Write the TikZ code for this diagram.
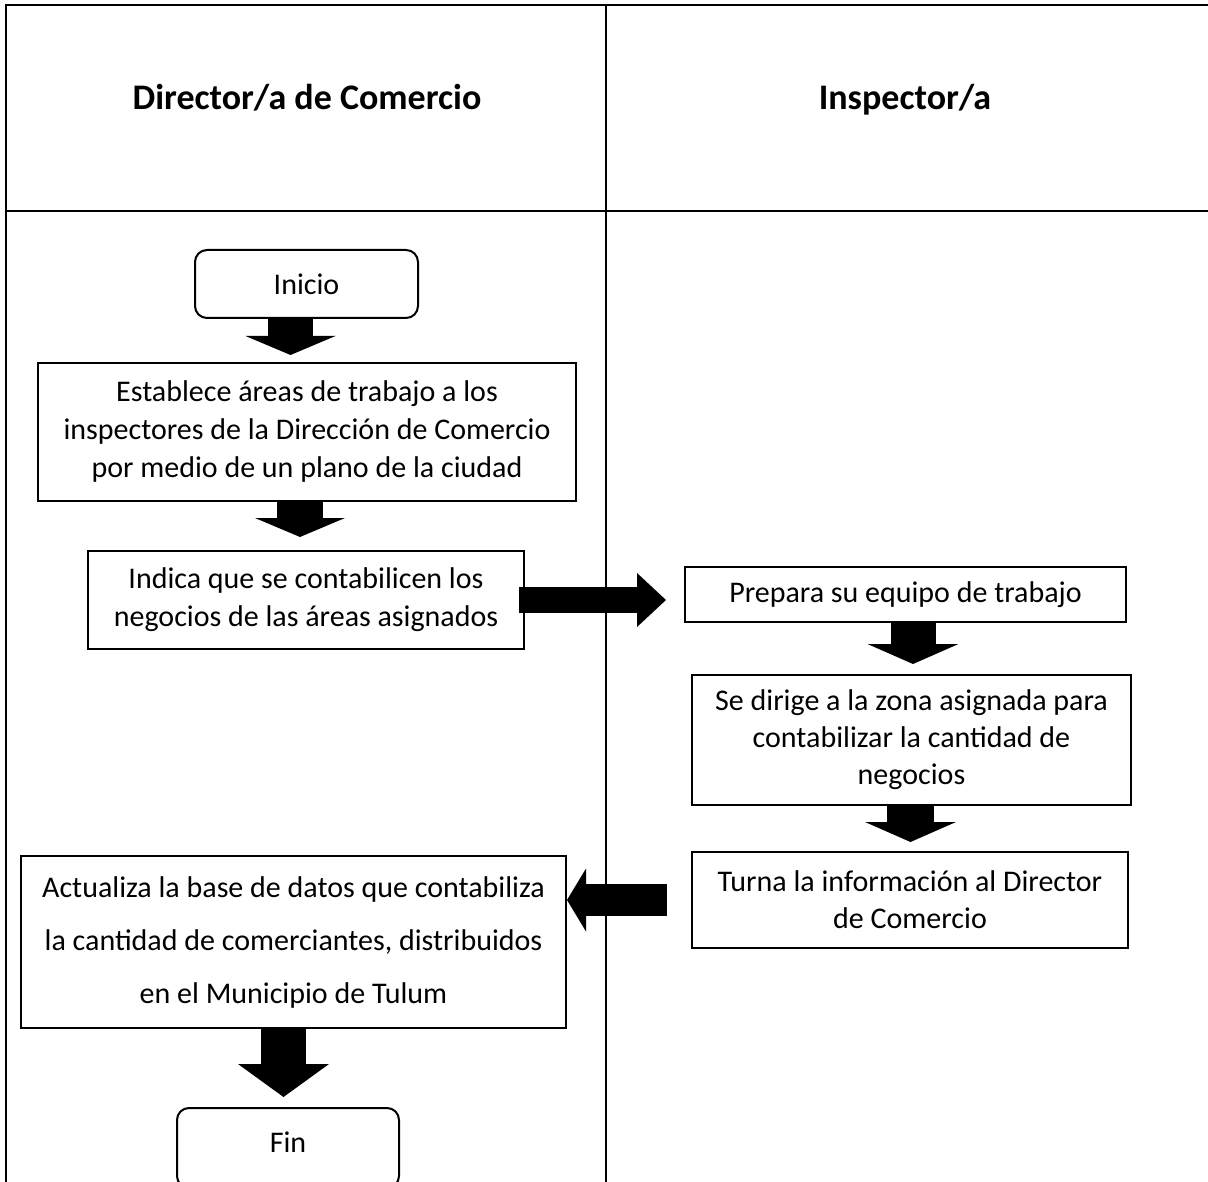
\documentclass[tikz,border=0pt]{standalone}
\usepackage{fontspec}
\setmainfont{Carlito}
\usetikzlibrary{arrows.meta}
\def\downFlow{inicio/establece/-16/7/45/90/19, establece/indica/-7/13/46/90/19, prepara/sedirige/7.5/10/45/91/20, sedirige/turna/-1/9/47/91/20, actualiza/fin/-10/10/45/91/33}
\tikzstyle{lane line}=[line width=2.4pt]
\tikzstyle{process}=[draw, line width=2pt, inner sep=0pt, align=center, font=\fontsize{30}{38}\selectfont]
\tikzstyle{terminal}=[process, rounded corners=12pt]
\tikzstyle{lane title}=[anchor=base, font=\fontsize{36}{42}\selectfont\bfseries]

\begin{document}
\begin{tikzpicture}[x=1pt, y=-1pt]
  \useasboundingbox (0,0) rectangle (1208,1182);

  % The swimlane table
  \draw[lane line] (5,5) -- (1210,5);
  \draw[lane line] (6,4) -- (6,1190);
  \draw[lane line] (6,211) -- (1210,211);
  \draw[line width=2pt] (606,4) -- (606,1190);
  \node[lane title] (director) at (307,110) {Director/a de Comercio};
  \node[lane title] (inspector) at (905,110) {Inspector/a};

  % Director steps
  \node[terminal, minimum width=223pt, minimum height=68pt] (inicio) at (306.5,284) {Inicio};
  \node[process, minimum width=538pt, minimum height=138pt] (establece) at (307,432)
    {Establece áreas de trabajo a los\\inspectores de la Dirección de Comercio\\por medio de un plano de la ciudad};
  \node[process, minimum width=436pt, minimum height=98pt] (indica) at (306,600)
    {Indica que se contabilicen los\\negocios de las áreas asignados};
  \node[process, minimum width=545pt, minimum height=172pt, font=\fontsize{30}{53}\selectfont] (actualiza) at (293.5,942)
    {Actualiza la base de datos que contabiliza\\la cantidad de comerciantes, distribuidos\\en el Municipio de Tulum};
  \node[terminal, minimum width=222pt, minimum height=80pt, text depth=11pt] (fin) at (288,1148) {Fin};

  % Inspector steps
  \node[process, minimum width=441pt, minimum height=55pt] (prepara) at (905.5,594.5) {Prepara su equipo de trabajo};
  \node[process, minimum width=439pt, minimum height=130pt, font=\fontsize{30}{37}\selectfont] (sedirige) at (911.5,740)
    {Se dirige a la zona asignada para\\contabilizar la cantidad de\\negocios};
  \node[process, minimum width=436pt, minimum height=96pt, font=\fontsize{30}{37}\selectfont] (turna) at (910,900)
    {Turna la información al Director\\de Comercio};

  % Block arrows down the lanes
  \foreach \src/\dst/\dx/\gap/\shaft/\head/\len in \downFlow {
    \draw[line width=\shaft pt, -{Triangle[width=\head pt, length=\len pt, line width=0pt]}]
      ([xshift=\dx pt]\src.south) -- ([xshift=\dx pt, yshift=\gap pt]\src.south |- \dst.north);
    }

  % Block arrows across the lanes
  \draw[line width=26pt, -{Triangle[width=54pt, length=29pt, line width=0pt]}]
    ([xshift=-6pt]indica.east) -- ([xshift=-18pt]prepara.west |- indica.east);
  \draw[line width=32pt, -{Triangle[width=63pt, length=19pt, line width=0pt]}]
    ([xshift=-24pt]turna.west) -- (actualiza.east |- turna.west);
\end{tikzpicture}
\end{document}
